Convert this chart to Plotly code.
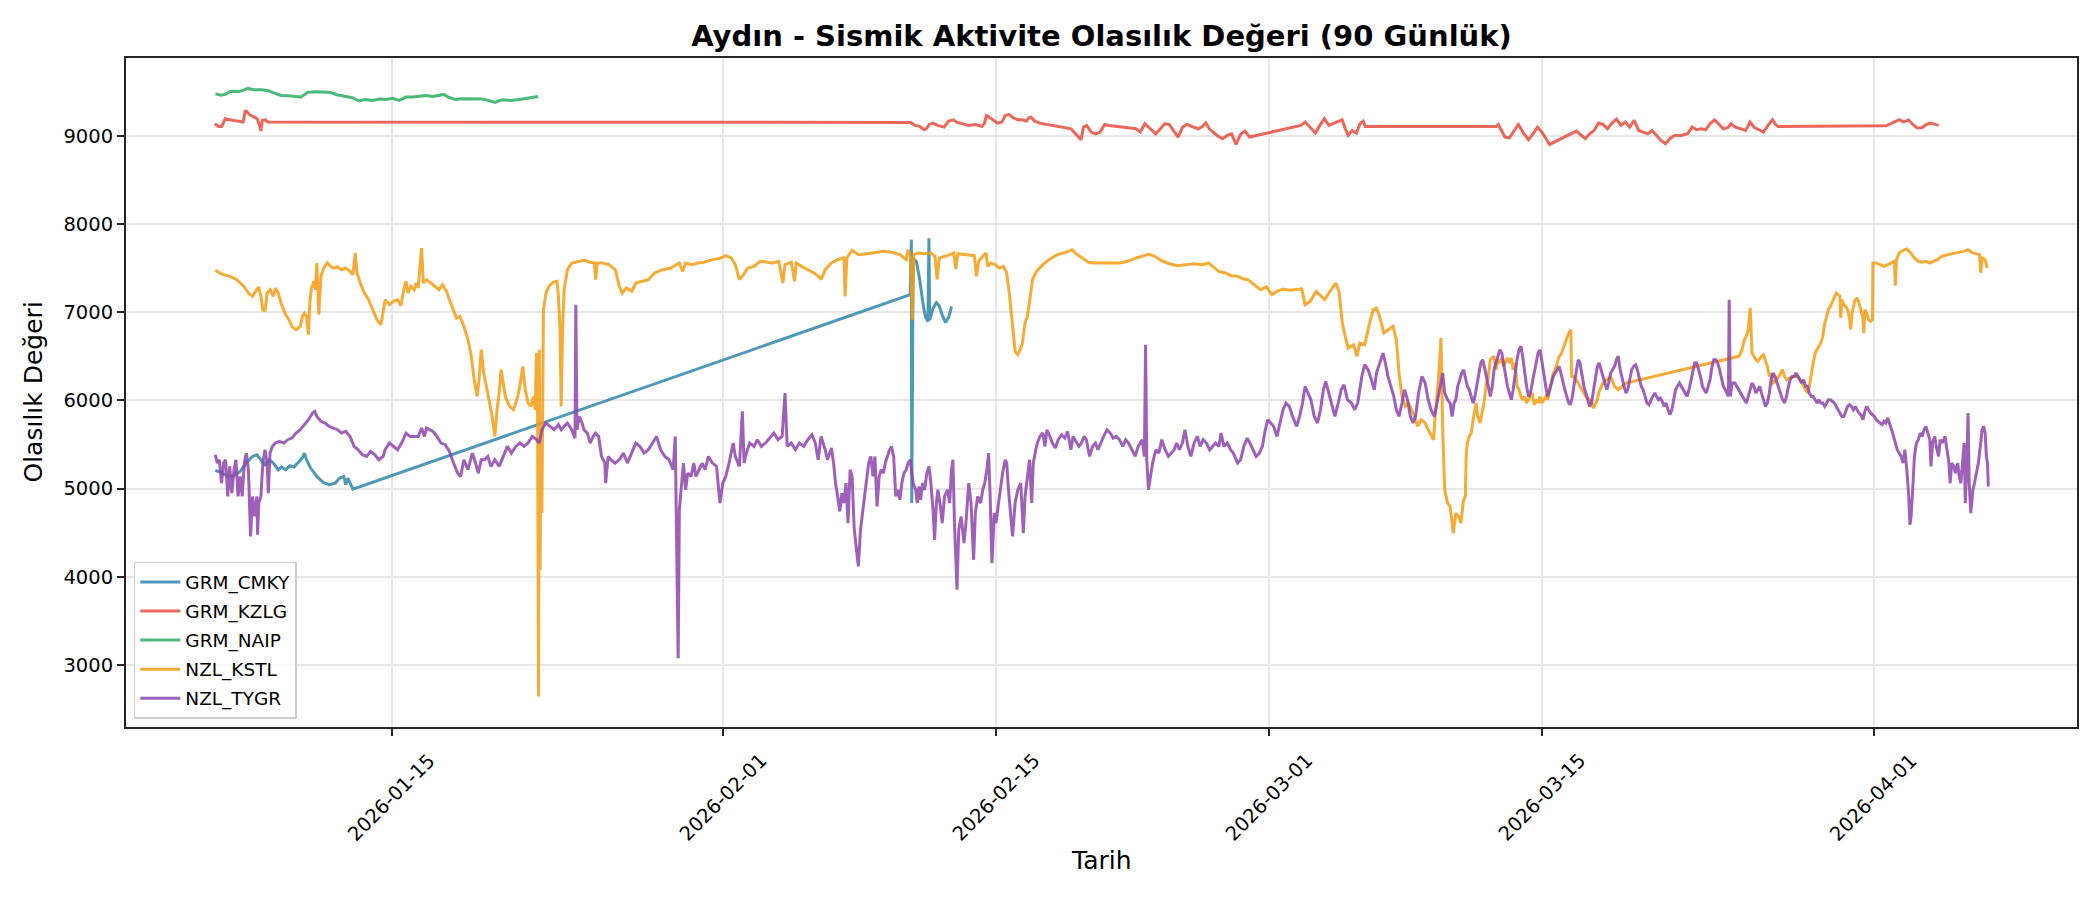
import pandas as pd
import plotly.graph_objects as go

baslangic = pd.Timestamp("2026-01-01")

istasyonlar = ["GRM_CMKY", "GRM_KZLG", "GRM_NAIP", "NZL_KSTL", "NZL_TYGR"]
renkler = ["rgba(46,134,171,0.85)", "rgba(231,76,60,0.85)", "rgba(39,174,96,0.85)",
           "rgba(243,156,18,0.85)", "rgba(142,68,173,0.85)"]

# (gun, deger): gun = 2026-01-01'den itibaren gecen gun sayisi
cmky = [(4.95, 5206), (5.27, 5184), (5.59, 5138), (5.91, 5146), (6.23, 5195), (6.54, 5290),
        (6.86, 5365), (7.08, 5384), (7.29, 5327), (7.50, 5271), (7.71, 5327), (7.93, 5290),
        (8.18, 5214), (8.35, 5244), (8.56, 5214), (8.78, 5259), (8.99, 5244), (9.20, 5290),
        (9.41, 5346), (9.52, 5403), (9.63, 5327), (9.84, 5233), (10.16, 5138), (10.48, 5070),
        (10.79, 5044), (11.11, 5063), (11.33, 5119), (11.54, 5138), (11.64, 5044), (11.75, 5119),
        (11.86, 5063), (12.01, 4994),
        (40.59, 7200), (40.65, 7825), (40.67, 4836), (40.74, 7613), (40.91, 7575), (41.08, 7367),
        (41.23, 7121), (41.37, 6951), (41.50, 6894), (41.55, 7840), (41.59, 6913), (41.76, 7045),
        (41.93, 7110), (42.08, 7072), (42.23, 6970), (42.40, 6886), (42.57, 6947), (42.71, 7068)]

kzlg = [(4.92, 9140), (5.13, 9110), (5.28, 9110), (5.46, 9197), (5.69, 9185), (6.03, 9170),
        (6.38, 9159), (6.49, 9291), (6.72, 9242), (6.95, 9215), (7.11, 9193), (7.25, 9102),
        (7.29, 9057), (7.36, 9178), (7.52, 9185), (7.63, 9159),
        (40.61, 9155), (40.84, 9121), (41.07, 9110), (41.30, 9072), (41.41, 9083), (41.57, 9132),
        (41.76, 9147), (41.99, 9121), (42.33, 9102), (42.56, 9170), (42.79, 9185), (43.01, 9155),
        (43.36, 9132), (43.59, 9121), (43.93, 9132), (44.27, 9110), (44.39, 9140), (44.50, 9234),
        (44.68, 9208), (44.84, 9185), (45.07, 9147), (45.30, 9159), (45.46, 9234), (45.64, 9246),
        (45.87, 9208), (46.10, 9185), (46.33, 9185), (46.56, 9170), (46.67, 9208), (46.79, 9215),
        (46.97, 9170), (47.24, 9147), (47.70, 9129), (48.16, 9110), (48.61, 9091), (48.84, 9083),
        (49.07, 9026), (49.35, 8958), (49.48, 9102), (49.64, 9121), (49.87, 9045), (50.10, 9026),
        (50.33, 9045), (50.56, 9132), (50.79, 9121), (51.13, 9110), (51.47, 9102), (51.82, 9091),
        (52.16, 9083), (52.39, 9045), (52.62, 9140), (52.84, 9095), (53.19, 9026), (53.42, 9083),
        (53.64, 9140), (53.87, 9132), (54.10, 9064), (54.33, 8989), (54.56, 9102), (54.79, 9132),
        (55.02, 9110), (55.36, 9083), (55.59, 9110), (55.75, 9151), (55.93, 9083), (56.16, 9034),
        (56.39, 8996), (56.62, 8970), (56.85, 9008), (57.07, 9026), (57.30, 8905), (57.53, 9019),
        (57.76, 9057), (57.99, 8989),
        (60.62, 9121), (60.85, 9159), (61.07, 9102), (61.37, 9034), (61.60, 9121), (61.83, 9197),
        (62.06, 9121), (62.33, 9147), (62.74, 9185), (62.90, 9083), (63.06, 9008), (63.25, 9064),
        (63.47, 9034), (63.66, 9140), (63.82, 9170), (63.93, 9110),
        (70.64, 9110), (70.75, 9132), (70.86, 9083), (71.09, 8989), (71.32, 8981), (71.55, 9064),
        (71.78, 9132), (72.01, 9045), (72.30, 8958), (72.53, 9026), (72.76, 9102), (72.99, 9045),
        (73.15, 8989), (73.38, 8905),
        (74.75, 9057), (74.98, 9008), (75.21, 8970), (75.44, 9026), (75.66, 9064), (75.89, 9147),
        (76.12, 9132), (76.35, 9083), (76.58, 9147), (76.81, 9193), (77.04, 9121), (77.26, 9159),
        (77.49, 9102), (77.72, 9178), (77.95, 9064), (78.18, 9045), (78.41, 9026), (78.64, 9064),
        (78.86, 9008), (79.09, 8951), (79.32, 8913), (79.55, 8970), (79.78, 9008), (80.12, 9008),
        (80.46, 9026), (80.69, 9102), (80.92, 9072), (81.15, 9083), (81.38, 9072), (81.61, 9140),
        (81.84, 9185), (82.06, 9132), (82.29, 9083), (82.52, 9095), (82.68, 9140), (82.91, 9102),
        (83.21, 9083), (83.44, 9064), (83.66, 9159), (83.89, 9095), (84.12, 9072), (84.35, 9045),
        (84.58, 9121), (84.81, 9185), (84.97, 9132), (85.11, 9110),
        (90.64, 9117), (90.87, 9140), (91.09, 9159), (91.32, 9185), (91.55, 9159), (91.78, 9185),
        (92.01, 9132), (92.24, 9091), (92.47, 9095), (92.70, 9132), (92.92, 9147), (93.15, 9129),
        (93.33, 9121)]

naip = [(4.96, 9480), (5.23, 9465), (5.46, 9473), (5.74, 9510), (6.15, 9507), (6.38, 9518),
        (6.61, 9541), (6.95, 9526), (7.29, 9526), (7.63, 9518), (7.98, 9488), (8.32, 9461),
        (8.66, 9458), (9.01, 9450), (9.35, 9443), (9.69, 9496), (10.04, 9503), (10.49, 9499),
        (10.84, 9496), (11.18, 9469), (11.64, 9454), (11.98, 9435), (12.32, 9401), (12.66, 9416),
        (13.01, 9405), (13.35, 9420), (13.70, 9416), (14.04, 9428), (14.38, 9405), (14.73, 9443),
        (15.07, 9443), (15.41, 9450), (15.76, 9461), (16.10, 9450), (16.44, 9461), (16.67, 9473),
        (16.90, 9443), (17.25, 9416), (17.59, 9424), (17.93, 9420), (18.27, 9420), (18.62, 9420),
        (18.95, 9405), (19.29, 9382), (19.64, 9412), (20.09, 9405), (20.55, 9416), (20.89, 9428),
        (21.24, 9435), (21.51, 9450)]

kstl = [(4.95, 7477), (5.16, 7447), (5.38, 7428), (5.69, 7409), (6.01, 7378), (6.23, 7333),
        (6.44, 7288), (6.65, 7219), (6.86, 7182), (7.08, 7257), (7.18, 7288), (7.29, 7182),
        (7.39, 7030), (7.50, 7011), (7.61, 7219), (7.76, 7257), (7.93, 7182), (8.03, 7276),
        (8.18, 7219), (8.35, 7087), (8.46, 7030), (8.56, 6974), (8.73, 6917), (8.88, 6841),
        (9.09, 6803), (9.31, 6841), (9.41, 6947), (9.52, 6992), (9.63, 6955), (9.73, 6746),
        (9.80, 7106), (9.88, 7276), (10.01, 7352), (10.09, 7257), (10.16, 7560), (10.22, 7182),
        (10.26, 6974), (10.37, 7409), (10.52, 7503), (10.69, 7560), (10.86, 7522), (11.01, 7503),
        (11.22, 7515), (11.43, 7484), (11.64, 7503), (11.86, 7465), (12.01, 7428), (12.13, 7674),
        (12.22, 7447), (12.39, 7333), (12.60, 7219), (12.81, 7144), (13.03, 7030), (13.24, 6917),
        (13.45, 6860), (13.56, 6992), (13.66, 7144), (13.88, 7087), (14.09, 7125), (14.30, 7144),
        (14.47, 7076), (14.62, 7257), (14.73, 7352), (14.83, 7219), (14.98, 7295), (15.15, 7257),
        (15.26, 7333), (15.36, 7276), (15.53, 7730), (15.62, 7333), (15.79, 7371), (16.00, 7333),
        (16.21, 7295), (16.43, 7257), (16.60, 7314), (16.81, 7238), (16.96, 7144), (17.17, 7030),
        (17.32, 6936), (17.49, 6955), (17.70, 6841), (17.91, 6690), (18.08, 6501), (18.23, 6236),
        (18.38, 6046), (18.51, 6311), (18.59, 6576), (18.72, 6311), (18.87, 6122), (19.02, 5971),
        (19.15, 5819), (19.29, 5592), (19.40, 5895), (19.51, 6084), (19.61, 6349), (19.72, 6198),
        (19.83, 6046), (20.04, 5933), (20.25, 5895), (20.46, 6046), (20.57, 6160), (20.72, 6387),
        (20.85, 6122), (20.99, 5971), (21.14, 5933), (21.27, 6046), (21.36, 5895), (21.42, 6538),
        (21.48, 5819), (21.53, 2640), (21.57, 6576), (21.61, 4079), (21.65, 5668), (21.70, 4722),
        (21.74, 6803), (21.78, 7030), (21.91, 7219), (22.06, 7295), (22.27, 7341), (22.48, 7352),
        (22.55, 7182), (22.63, 6803), (22.69, 5933), (22.76, 6803), (22.84, 7257), (23.01, 7484),
        (23.23, 7560), (23.54, 7579), (23.86, 7590), (24.18, 7568), (24.39, 7560), (24.46, 7371),
        (24.54, 7560), (24.82, 7560), (25.14, 7541), (25.46, 7484), (25.67, 7295), (25.82, 7219),
        (26.03, 7276), (26.31, 7238), (26.52, 7333), (26.84, 7352), (27.16, 7371), (27.48, 7447),
        (27.90, 7484), (28.33, 7503), (28.75, 7560), (28.92, 7465), (29.07, 7560), (29.39, 7541),
        (29.71, 7560), (30.03, 7568), (30.45, 7598), (30.88, 7617), (31.13, 7643), (31.41, 7617),
        (31.62, 7541), (31.83, 7371), (32.04, 7428), (32.26, 7503), (32.58, 7522), (32.89, 7579),
        (33.21, 7568), (33.53, 7560), (33.85, 7579), (34.06, 7333), (34.17, 7541), (34.49, 7568),
        (34.66, 7352), (34.74, 7560), (35.02, 7522), (35.34, 7484), (35.66, 7447), (35.98, 7390),
        (36.02, 7371), (36.23, 7484), (36.55, 7560), (36.87, 7598), (37.19, 7617), (37.25, 7182),
        (37.34, 7617), (37.61, 7704), (37.93, 7655), (38.36, 7666), (38.78, 7681), (39.21, 7692),
        (39.63, 7681), (40.06, 7655), (40.38, 7598), (40.48, 7711), (40.61, 7636), (40.70, 6917),
        (40.78, 7655), (41.01, 7674), (41.33, 7666), (41.65, 7674), (41.86, 7636), (41.97, 7371),
        (42.08, 7617), (42.40, 7636), (42.82, 7674), (42.93, 7492), (43.03, 7666), (43.46, 7655),
        (43.88, 7643), (43.99, 7409), (44.10, 7579), (44.31, 7636), (44.48, 7674), (44.56, 7522),
        (44.73, 7560), (44.95, 7541), (45.16, 7503), (45.37, 7522), (45.54, 7447), (45.69, 7182),
        (45.84, 6803), (45.97, 6557), (46.11, 6519), (46.33, 6633), (46.48, 6879), (46.60, 6955),
        (46.75, 7182), (46.86, 7371), (47.07, 7465), (47.39, 7541), (47.71, 7598), (48.13, 7655),
        (48.56, 7681), (48.88, 7711), (49.09, 7666), (49.41, 7617), (49.73, 7568), (50.05, 7560),
        (50.47, 7560), (50.90, 7552), (51.32, 7560), (51.75, 7579), (52.17, 7617), (52.49, 7636),
        (52.81, 7662), (53.13, 7636), (53.45, 7590), (53.87, 7552), (54.30, 7530), (54.72, 7541),
        (55.15, 7552), (55.57, 7541), (55.89, 7560), (56.10, 7522), (56.42, 7465), (56.74, 7447),
        (57.06, 7416), (57.38, 7409), (57.70, 7378), (57.91, 7371), (58.23, 7314), (58.55, 7257),
        (58.86, 7288), (59.14, 7201), (59.40, 7238), (59.71, 7265), (60.03, 7250), (60.35, 7257),
        (60.67, 7265), (60.84, 7087), (61.10, 7125), (61.41, 7238), (61.63, 7189), (61.84, 7144),
        (62.12, 7238), (62.41, 7333), (62.58, 7238), (62.75, 6879), (62.90, 6728), (63.05, 6595),
        (63.33, 6633), (63.50, 6501), (63.65, 6652), (63.90, 6633), (64.11, 6841), (64.33, 7030),
        (64.50, 7049), (64.67, 6947), (64.88, 6765), (65.09, 6803), (65.35, 6841), (65.52, 6690),
        (65.66, 6311), (65.81, 6046), (65.98, 5933), (66.15, 5971), (66.30, 5895), (66.45, 5819),
        (66.62, 5706), (66.79, 5782), (67.00, 5744), (67.15, 5668), (67.43, 5555), (67.51, 5819),
        (67.68, 6236), (67.81, 6709), (67.90, 5668), (68.00, 4987), (68.15, 4836),
        (68.28, 4798), (68.44, 4495), (68.57, 4722), (68.71, 4684), (68.83, 4609), (68.97, 4874),
        (69.06, 4911), (69.10, 5365), (69.16, 5517), (69.26, 5592), (69.36, 5630), (69.46, 5782),
        (69.55, 5933), (69.61, 5971), (69.69, 5819), (69.81, 5744), (69.95, 5895), (70.04, 6009),
        (70.14, 6198), (70.24, 6273), (70.34, 6463), (70.44, 6482), (70.53, 6501), (70.63, 6349),
        (70.73, 6463), (70.83, 6425), (70.93, 6482), (71.02, 6387), (71.12, 6444), (71.22, 6482),
        (71.32, 6425), (71.42, 6482), (71.51, 6349), (71.61, 6425), (71.71, 6160), (71.81, 6122),
        (71.91, 6046), (72.00, 6009), (72.10, 6046), (72.20, 5971), (72.30, 6009), (72.40, 6046),
        (72.49, 6084), (72.59, 5952), (72.69, 6009), (72.79, 5971), (72.89, 6046), (72.98, 5971),
        (73.08, 6009), (73.18, 6046), (73.28, 6009), (73.38, 6122), (73.47, 6236), (73.57, 6311),
        (73.67, 6349), (73.77, 6425), (73.87, 6501), (73.96, 6519), (74.06, 6576), (74.16, 6633),
        (74.26, 6690), (74.36, 6765), (74.47, 6803), (74.51, 6273), (74.59, 6273), (74.75, 6236),
        (74.94, 6160), (75.04, 6122), (75.24, 6046), (75.43, 6009), (75.53, 5971), (75.63, 5914),
        (75.73, 5971), (75.83, 6009), (75.92, 6103), (76.02, 6160), (76.12, 6198), (76.32, 6236),
        (76.51, 6273), (76.71, 6160), (76.90, 6122), (77.10, 6160), (77.30, 6198),
        (83.08, 6501), (83.18, 6538), (83.27, 6595), (83.37, 6690), (83.47, 6728), (83.57, 6803),
        (83.67, 7049), (83.76, 6538), (83.86, 6501), (83.96, 6463), (84.06, 6444), (84.16, 6482),
        (84.25, 6501), (84.35, 6519), (84.45, 6463), (84.55, 6387), (84.65, 6273), (84.74, 6311),
        (84.84, 6198), (84.94, 6217), (85.14, 6273), (85.33, 6349), (85.43, 6273), (85.53, 6236),
        (85.72, 6255), (85.92, 6273), (86.12, 6273), (86.31, 6198), (86.51, 6122), (86.61, 6084),
        (86.70, 6160), (86.80, 6311), (86.90, 6425), (87.00, 6538), (87.10, 6576), (87.19, 6614),
        (87.29, 6652), (87.39, 6728), (87.49, 6879), (87.59, 6955), (87.68, 7030), (87.78, 7068),
        (87.88, 7125), (87.98, 7182), (88.08, 7219), (88.17, 7201), (88.27, 7182), (88.31, 6936),
        (88.37, 7144), (88.47, 7087), (88.57, 7068), (88.66, 7030), (88.76, 6936), (88.82, 6803),
        (88.90, 6992), (89.02, 7125), (89.15, 7163), (89.25, 7106), (89.35, 7030), (89.45, 6936),
        (89.49, 6765), (89.55, 7030), (89.64, 6992), (89.74, 6917), (89.84, 6898), (89.94, 6917),
        (89.96, 7560), (90.13, 7560), (90.33, 7541), (90.53, 7522), (90.72, 7541), (90.92, 7560),
        (91.02, 7579), (91.07, 7579), (91.11, 7303), (91.17, 7598), (91.31, 7674), (91.51, 7704),
        (91.70, 7719), (91.90, 7674), (92.09, 7617), (92.29, 7579), (92.49, 7568), (92.68, 7579),
        (92.88, 7560), (93.07, 7579), (93.27, 7598), (93.47, 7636), (93.76, 7655), (94.05, 7666),
        (94.35, 7681), (94.64, 7692), (94.84, 7711), (95.03, 7681), (95.23, 7666), (95.43, 7655),
        (95.49, 7447), (95.57, 7617), (95.72, 7598), (95.82, 7503)]

tygr = [(4.95, 5384), (5.06, 5290), (5.16, 5327), (5.27, 5063), (5.38, 5290), (5.48, 5327),
        (5.59, 4911), (5.69, 5252), (5.80, 4949), (5.91, 5214), (6.01, 5327), (6.12, 4911),
        (6.23, 5138), (6.33, 4911), (6.44, 5290), (6.54, 5403), (6.65, 5214), (6.76, 4457),
        (6.86, 4911), (6.97, 4684), (7.08, 4911), (7.12, 4476), (7.18, 4836), (7.29, 4911),
        (7.39, 5290), (7.50, 5441), (7.61, 5290), (7.67, 4949), (7.76, 5403), (7.88, 5479),
        (8.03, 5517), (8.24, 5536), (8.46, 5517), (8.67, 5555), (8.88, 5573), (9.09, 5630),
        (9.31, 5668), (9.52, 5725), (9.73, 5782), (9.94, 5857), (10.05, 5876), (10.16, 5819),
        (10.37, 5763), (10.58, 5744), (10.79, 5706), (11.01, 5687), (11.22, 5668), (11.43, 5630),
        (11.64, 5649), (11.86, 5592), (12.07, 5479), (12.28, 5441), (12.49, 5384), (12.71, 5365),
        (12.92, 5422), (13.13, 5384), (13.34, 5327), (13.56, 5365), (13.66, 5441), (13.88, 5517),
        (14.09, 5479), (14.30, 5441), (14.51, 5517), (14.73, 5630), (14.94, 5592), (15.15, 5592),
        (15.36, 5592), (15.53, 5687), (15.68, 5592), (15.79, 5687), (15.96, 5668), (16.11, 5649),
        (16.32, 5592), (16.53, 5517), (16.74, 5498), (16.96, 5422), (17.17, 5290), (17.38, 5176),
        (17.53, 5138), (17.70, 5327), (17.91, 5214), (18.13, 5403), (18.30, 5290), (18.44, 5176),
        (18.59, 5327), (18.76, 5327), (18.93, 5365), (19.08, 5252), (19.29, 5327), (19.51, 5252),
        (19.72, 5365), (19.93, 5479), (20.14, 5403), (20.36, 5479), (20.57, 5517), (20.78, 5479),
        (20.99, 5517), (21.21, 5592), (21.42, 5555), (21.57, 5517), (21.70, 5668), (21.91, 5744),
        (22.12, 5706), (22.33, 5668), (22.55, 5725), (22.69, 5668), (22.84, 5706), (23.01, 5744),
        (23.23, 5668), (23.40, 5573), (23.44, 7087), (23.50, 5668), (23.61, 5819), (23.76, 5744),
        (23.86, 5668), (24.03, 5630), (24.18, 5517), (24.33, 5592), (24.46, 5630), (24.61, 5592),
        (24.76, 5365), (24.93, 5290), (24.97, 5063), (25.10, 5365), (25.24, 5327), (25.46, 5290),
        (25.67, 5327), (25.88, 5403), (26.09, 5290), (26.31, 5403), (26.52, 5517), (26.73, 5479),
        (26.94, 5403), (27.16, 5441), (27.37, 5517), (27.58, 5592), (27.79, 5441), (28.01, 5365),
        (28.22, 5327), (28.43, 5214), (28.54, 5592), (28.69, 3076), (28.75, 4760), (28.86, 5063),
        (28.96, 5290), (29.07, 4987), (29.18, 5176), (29.35, 5138), (29.49, 5290), (29.60, 5138),
        (29.77, 5214), (29.92, 5290), (30.07, 5214), (30.24, 5365), (30.45, 5290), (30.66, 5252),
        (30.83, 4836), (30.98, 5063), (31.13, 5138), (31.30, 5290), (31.51, 5517), (31.62, 5365),
        (31.83, 5252), (31.98, 5876), (32.07, 5290), (32.19, 5403), (32.36, 5517), (32.58, 5479),
        (32.75, 5555), (32.96, 5479), (33.17, 5517), (33.38, 5573), (33.60, 5630), (33.81, 5555),
        (34.02, 5592), (34.17, 6084), (34.28, 5479), (34.49, 5517), (34.70, 5441), (34.91, 5517),
        (35.13, 5479), (35.34, 5555), (35.55, 5611), (35.72, 5517), (35.87, 5327),
        (36.02, 5592), (36.23, 5441), (36.34, 5327), (36.45, 5403), (36.55, 5460), (36.66, 5290),
        (36.76, 5063), (36.87, 4911), (36.98, 4741), (37.08, 4949), (37.19, 4836), (37.30, 5063),
        (37.40, 4609), (37.51, 5214), (37.61, 5138), (37.72, 4533), (37.83, 4306), (37.93, 4117),
        (38.04, 4533), (38.15, 4722), (38.25, 4911), (38.36, 5063), (38.46, 5290), (38.57, 5365),
        (38.68, 5138), (38.78, 5365), (38.89, 4798), (39.00, 5138), (39.10, 5214), (39.21, 5176),
        (39.31, 5290), (39.42, 5365), (39.53, 5441), (39.63, 5479), (39.74, 5365), (39.85, 4911),
        (39.95, 4987), (40.06, 4873), (40.16, 5063), (40.27, 5176), (40.38, 5214), (40.48, 5290),
        (40.59, 5327), (40.65, 5214), (40.74, 5063), (40.87, 4987), (40.95, 4836), (41.04, 5025),
        (41.12, 4873), (41.23, 5063), (41.33, 4987), (41.44, 5176), (41.55, 5252), (41.65, 5063),
        (41.76, 4760), (41.84, 4419), (41.93, 4836), (42.01, 4987), (42.14, 4798), (42.23, 4609),
        (42.35, 4911), (42.50, 4987), (42.61, 4836), (42.71, 5214), (42.78, 5327), (42.86, 4609),
        (42.95, 3965), (42.99, 3852), (43.08, 4533), (43.20, 4684), (43.35, 4381), (43.46, 4646),
        (43.59, 5063), (43.71, 4836), (43.84, 4192), (43.93, 4722), (44.05, 4911), (44.20, 4836),
        (44.31, 4987), (44.41, 5063), (44.52, 5214), (44.61, 5403), (44.69, 4911), (44.78, 4155),
        (44.90, 4722), (44.99, 4609), (45.12, 4836), (45.20, 4987), (45.33, 5176), (45.46, 5327),
        (45.54, 5290), (45.63, 4987), (45.75, 4722), (45.84, 4457), (45.97, 4836), (46.11, 4987),
        (46.26, 5063), (46.39, 4495), (46.48, 4911), (46.60, 5138), (46.71, 5327), (46.82, 4836),
        (46.90, 5290), (47.03, 5441), (47.11, 5517), (47.24, 5592), (47.39, 5630), (47.50, 5479),
        (47.60, 5668), (47.75, 5592), (47.88, 5517), (48.03, 5460), (48.18, 5555), (48.35, 5611),
        (48.52, 5573), (48.66, 5649), (48.83, 5441), (48.94, 5592), (49.09, 5536), (49.24, 5479),
        (49.37, 5517), (49.51, 5592), (49.62, 5555), (49.79, 5365), (49.94, 5479), (50.09, 5517),
        (50.22, 5441), (50.36, 5517), (50.51, 5592), (50.68, 5668), (50.85, 5630), (51.00, 5573),
        (51.15, 5592), (51.32, 5555), (51.49, 5479), (51.64, 5555), (51.79, 5517), (51.96, 5441),
        (52.13, 5365), (52.28, 5479), (52.38, 5517), (52.49, 5555), (52.60, 5365), (52.66, 6633),
        (52.72, 5327), (52.81, 4987), (52.91, 5138), (53.02, 5290), (53.19, 5441), (53.34, 5403),
        (53.49, 5555), (53.66, 5441), (53.83, 5365), (53.98, 5403), (54.13, 5441), (54.25, 5517),
        (54.40, 5441), (54.55, 5517), (54.68, 5668), (54.83, 5479), (54.98, 5365), (55.15, 5517),
        (55.32, 5592), (55.46, 5479), (55.61, 5555), (55.78, 5517), (55.95, 5441), (56.10, 5479),
        (56.25, 5517), (56.42, 5479), (56.53, 5630), (56.68, 5479), (56.85, 5517), (57.02, 5441),
        (57.16, 5403), (57.38, 5290), (57.53, 5327), (57.70, 5479), (57.87, 5573), (58.01, 5517),
        (58.16, 5441), (58.33, 5365), (58.50, 5403), (58.65, 5479), (58.80, 5668), (58.93, 5782),
        (59.08, 5744), (59.23, 5706), (59.40, 5592), (59.57, 5744), (59.71, 5895), (59.86, 5971),
        (60.03, 5933), (60.20, 5819), (60.41, 5706), (60.56, 5819), (60.71, 5971), (60.84, 6160),
        (60.99, 6084), (61.14, 6009), (61.31, 5819), (61.48, 5744), (61.63, 5895), (61.78, 6122),
        (61.90, 6217), (62.05, 6084), (62.20, 5971), (62.37, 5819), (62.54, 5971), (62.69, 6122),
        (62.84, 6179), (63.01, 6009), (63.22, 5971), (63.39, 5895), (63.54, 5971), (63.65, 6160),
        (63.75, 6273), (63.90, 6406), (64.07, 6349), (64.24, 6236), (64.39, 6122), (64.50, 6311),
        (64.67, 6425), (64.84, 6538), (64.96, 6425), (65.09, 6273), (65.24, 6160), (65.39, 6046),
        (65.52, 5895), (65.66, 5819), (65.81, 5971), (65.94, 6122), (66.09, 6009), (66.24, 5819),
        (66.37, 5744), (66.51, 5819), (66.66, 6084), (66.83, 6273), (67.00, 6198), (67.15, 6009),
        (67.30, 5895), (67.47, 5819), (67.64, 6009), (67.79, 6198), (67.90, 6311), (68.00, 6084),
        (68.15, 6009),
        (68.28, 5971), (68.38, 5819), (68.48, 5971), (68.57, 6009), (68.67, 6160), (68.77, 6236),
        (68.87, 6311), (68.97, 6349), (69.06, 6273), (69.16, 6160), (69.26, 6122), (69.36, 6046),
        (69.46, 5971), (69.55, 6046), (69.65, 6160), (69.75, 6311), (69.85, 6425), (69.95, 6463),
        (70.04, 6387), (70.14, 6273), (70.24, 6160), (70.34, 6046), (70.44, 6160), (70.53, 6349),
        (70.63, 6425), (70.73, 6501), (70.83, 6576), (70.93, 6538), (71.02, 6425), (71.12, 6273),
        (71.22, 6160), (71.32, 6084), (71.42, 6009), (71.51, 6122), (71.61, 6311), (71.71, 6463),
        (71.81, 6576), (71.91, 6614), (72.00, 6501), (72.10, 6311), (72.20, 6160), (72.30, 6046),
        (72.40, 6084), (72.49, 6198), (72.59, 6311), (72.69, 6463), (72.79, 6538), (72.89, 6576),
        (72.98, 6463), (73.08, 6311), (73.18, 6160), (73.28, 6046), (73.38, 6122), (73.47, 6198),
        (73.57, 6273), (73.67, 6311), (73.77, 6349), (73.87, 6387), (73.96, 6311), (74.06, 6198),
        (74.16, 6122), (74.26, 6046), (74.36, 5971), (74.45, 5952), (74.55, 6046), (74.65, 6198),
        (74.75, 6349), (74.85, 6463), (74.94, 6425), (75.04, 6273), (75.14, 6160), (75.24, 6084),
        (75.34, 6009), (75.43, 5933), (75.53, 5971), (75.63, 6122), (75.73, 6273), (75.83, 6387),
        (75.92, 6425), (76.02, 6349), (76.12, 6273), (76.22, 6198), (76.32, 6122), (76.41, 6198),
        (76.51, 6311), (76.61, 6349), (76.71, 6387), (76.81, 6463), (76.90, 6501), (77.00, 6349),
        (77.10, 6236), (77.20, 6160), (77.30, 6084), (77.39, 6122), (77.49, 6236), (77.59, 6349),
        (77.69, 6387), (77.79, 6406), (77.88, 6349), (77.98, 6236), (78.08, 6160), (78.18, 6122),
        (78.28, 6046), (78.37, 5971), (78.47, 5952), (78.57, 6009), (78.67, 6046), (78.77, 6084),
        (78.86, 6046), (78.96, 6009), (79.06, 6028), (79.16, 5990), (79.26, 5933), (79.35, 5971),
        (79.45, 5895), (79.55, 5838), (79.65, 5895), (79.75, 6009), (79.84, 6122), (79.94, 6160),
        (80.04, 6198), (80.14, 6160), (80.24, 6122), (80.33, 6084), (80.43, 6046), (80.53, 6122),
        (80.63, 6236), (80.73, 6311), (80.82, 6425), (80.92, 6425), (81.02, 6349), (81.12, 6273),
        (81.22, 6160), (81.31, 6122), (81.41, 6084), (81.51, 6160), (81.61, 6236), (81.71, 6387),
        (81.80, 6463), (81.90, 6463), (82.00, 6425), (82.10, 6349), (82.20, 6236), (82.29, 6160),
        (82.39, 6122), (82.49, 6084), (82.55, 6046), (82.59, 7144), (82.65, 6046), (82.74, 6198),
        (82.88, 6198), (82.98, 6160), (83.08, 6122), (83.18, 6084), (83.27, 6046), (83.37, 6009),
        (83.47, 5971), (83.57, 6046), (83.67, 6122), (83.76, 6198), (83.86, 6160), (83.96, 6084),
        (84.06, 6122), (84.16, 6160), (84.25, 6084), (84.35, 6009), (84.45, 5933), (84.55, 5971),
        (84.65, 6084), (84.74, 6236), (84.84, 6311), (84.94, 6273), (85.04, 6198), (85.14, 6122),
        (85.23, 6084), (85.33, 6009), (85.43, 5971), (85.53, 6046), (85.63, 6160), (85.72, 6236),
        (85.82, 6273), (85.92, 6273), (86.02, 6311), (86.12, 6273), (86.21, 6236), (86.31, 6198),
        (86.41, 6236), (86.51, 6160), (86.61, 6160), (86.70, 6084), (86.80, 6046), (86.90, 6046),
        (87.00, 6009), (87.10, 5971), (87.19, 6009), (87.29, 5971), (87.39, 5971), (87.49, 5933),
        (87.59, 5971), (87.68, 6009), (87.78, 6009), (87.88, 5990), (87.98, 5971), (88.08, 5933),
        (88.17, 5895), (88.27, 5857), (88.37, 5819), (88.47, 5819), (88.57, 5895), (88.66, 5933),
        (88.76, 5952), (88.86, 5933), (88.96, 5895), (89.06, 5933), (89.15, 5895), (89.25, 5857),
        (89.35, 5838), (89.45, 5782), (89.55, 5876), (89.64, 5933), (89.74, 5895), (89.84, 5857),
        (89.94, 5838), (90.04, 5819), (90.13, 5782), (90.23, 5763), (90.33, 5744), (90.43, 5725),
        (90.53, 5763), (90.62, 5744), (90.72, 5800), (90.82, 5744), (90.92, 5668), (91.02, 5592),
        (91.11, 5517), (91.21, 5441), (91.31, 5403), (91.41, 5365), (91.51, 5290), (91.60, 5441),
        (91.70, 5214), (91.80, 4911), (91.86, 4590), (91.92, 4684), (92.00, 4987), (92.09, 5365),
        (92.19, 5517), (92.29, 5555), (92.39, 5630), (92.49, 5592), (92.58, 5668), (92.68, 5706),
        (92.78, 5630), (92.88, 5555), (92.94, 5252), (93.02, 5517), (93.13, 5592), (93.21, 5479),
        (93.33, 5365), (93.41, 5555), (93.52, 5517), (93.66, 5592), (93.76, 5441), (93.86, 5290),
        (93.92, 5063), (94.00, 5290), (94.11, 5252), (94.19, 5176), (94.31, 5290), (94.39, 5138),
        (94.47, 5063), (94.54, 5290), (94.64, 5517), (94.70, 4836), (94.78, 5290), (94.84, 5857),
        (94.90, 5063), (94.98, 4722), (95.09, 4987), (95.17, 5063), (95.29, 5214), (95.37, 5290),
        (95.49, 5517), (95.56, 5668), (95.64, 5706), (95.72, 5630), (95.78, 5365), (95.84, 5290),
        (95.88, 5025)]

seriler = [cmky, kzlg, naip, kstl, tygr]

tick_tarihleri = ["2026-01-15", "2026-02-01", "2026-02-15", "2026-03-01", "2026-03-15", "2026-04-01"]
y_tickleri = [3000, 4000, 5000, 6000, 7000, 8000, 9000]

FONT = "DejaVu Sans"
KOYU = "#262626"

fig = go.Figure()
tum_gunler, tum_degerler = [], []
for ad, renk, veri in zip(istasyonlar, renkler, seriler):
    gunler, degerler = zip(*veri)
    tum_gunler += gunler
    tum_degerler += degerler
    fig.add_trace(go.Scatter(
        x=baslangic + pd.to_timedelta(list(gunler), unit="D"),
        y=list(degerler),
        mode="lines",
        name=ad,
        legendgroup=ad,
        line=dict(color=renk, width=3),
    ))

# matplotlib tarzi %5 kenar payi
g0, g1 = min(tum_gunler), max(tum_gunler)
v0, v1 = min(tum_degerler), max(tum_degerler)
x_aralik = [baslangic + pd.Timedelta(days=g0 - 0.05 * (g1 - g0)),
            baslangic + pd.Timedelta(days=g1 + 0.05 * (g1 - g0))]
y_aralik = [v0 - 0.05 * (v1 - v0), v1 + 0.05 * (v1 - v0)]

eksen = dict(showline=True, mirror=True, linecolor=KOYU, linewidth=2,
             ticks="outside", ticklen=7, tickwidth=1.5, tickcolor=KOYU,
             showgrid=True, gridcolor="#e7e7e7", gridwidth=1.5, zeroline=False)

fig.update_xaxes(type="date", range=x_aralik, tickvals=tick_tarihleri,
                 showticklabels=False, **eksen)
fig.update_yaxes(range=y_aralik, tickvals=y_tickleri,
                 tickfont=dict(family=FONT, size=19.5, color="black"), **eksen)

notlar = []
for t in tick_tarihleri:
    notlar.append(dict(x=t, xref="x", y=0, yref="paper", yshift=-20,
                       text=t, showarrow=False, textangle=-45,
                       xanchor="center", yanchor="top",
                       font=dict(family=FONT, size=19.5, color="black")))
notlar.append(dict(x=0.5, xref="paper", y=0, yref="paper", yshift=-133,
                   text="Tarih", showarrow=False, xanchor="center", yanchor="middle",
                   font=dict(family=FONT, size=25, color="black")))
notlar.append(dict(x=0, xref="paper", xshift=-93, y=0.5, yref="paper",
                   text="Olasılık Değeri", showarrow=False, textangle=-90,
                   xanchor="center", yanchor="middle",
                   font=dict(family=FONT, size=25, color="black")))

fig.update_layout(
    width=2100, height=900,
    margin=dict(l=118, r=31, t=50, b=181),
    paper_bgcolor="white", plot_bgcolor="white",
    font=dict(family=FONT, color="black"),
    title=dict(text="Aydın - Sismik Aktivite Olasılık Değeri (90 Günlük)",
               x=0.5, xref="paper", xanchor="center",
               y=1 - 28 / 900, yref="container", yanchor="middle",
               font=dict(family=FONT, size=29, color="black", weight="bold")),
    legend=dict(x=0.004, y=0.012, xanchor="left", yanchor="bottom",
                bgcolor="rgba(255,255,255,0.8)", bordercolor="#cccccc", borderwidth=1.5,
                font=dict(family=FONT, size=18.5, color="black"),
                itemwidth=40, tracegroupgap=2),
    annotations=notlar,
    showlegend=True,
)

fig.write_html("out.html")
